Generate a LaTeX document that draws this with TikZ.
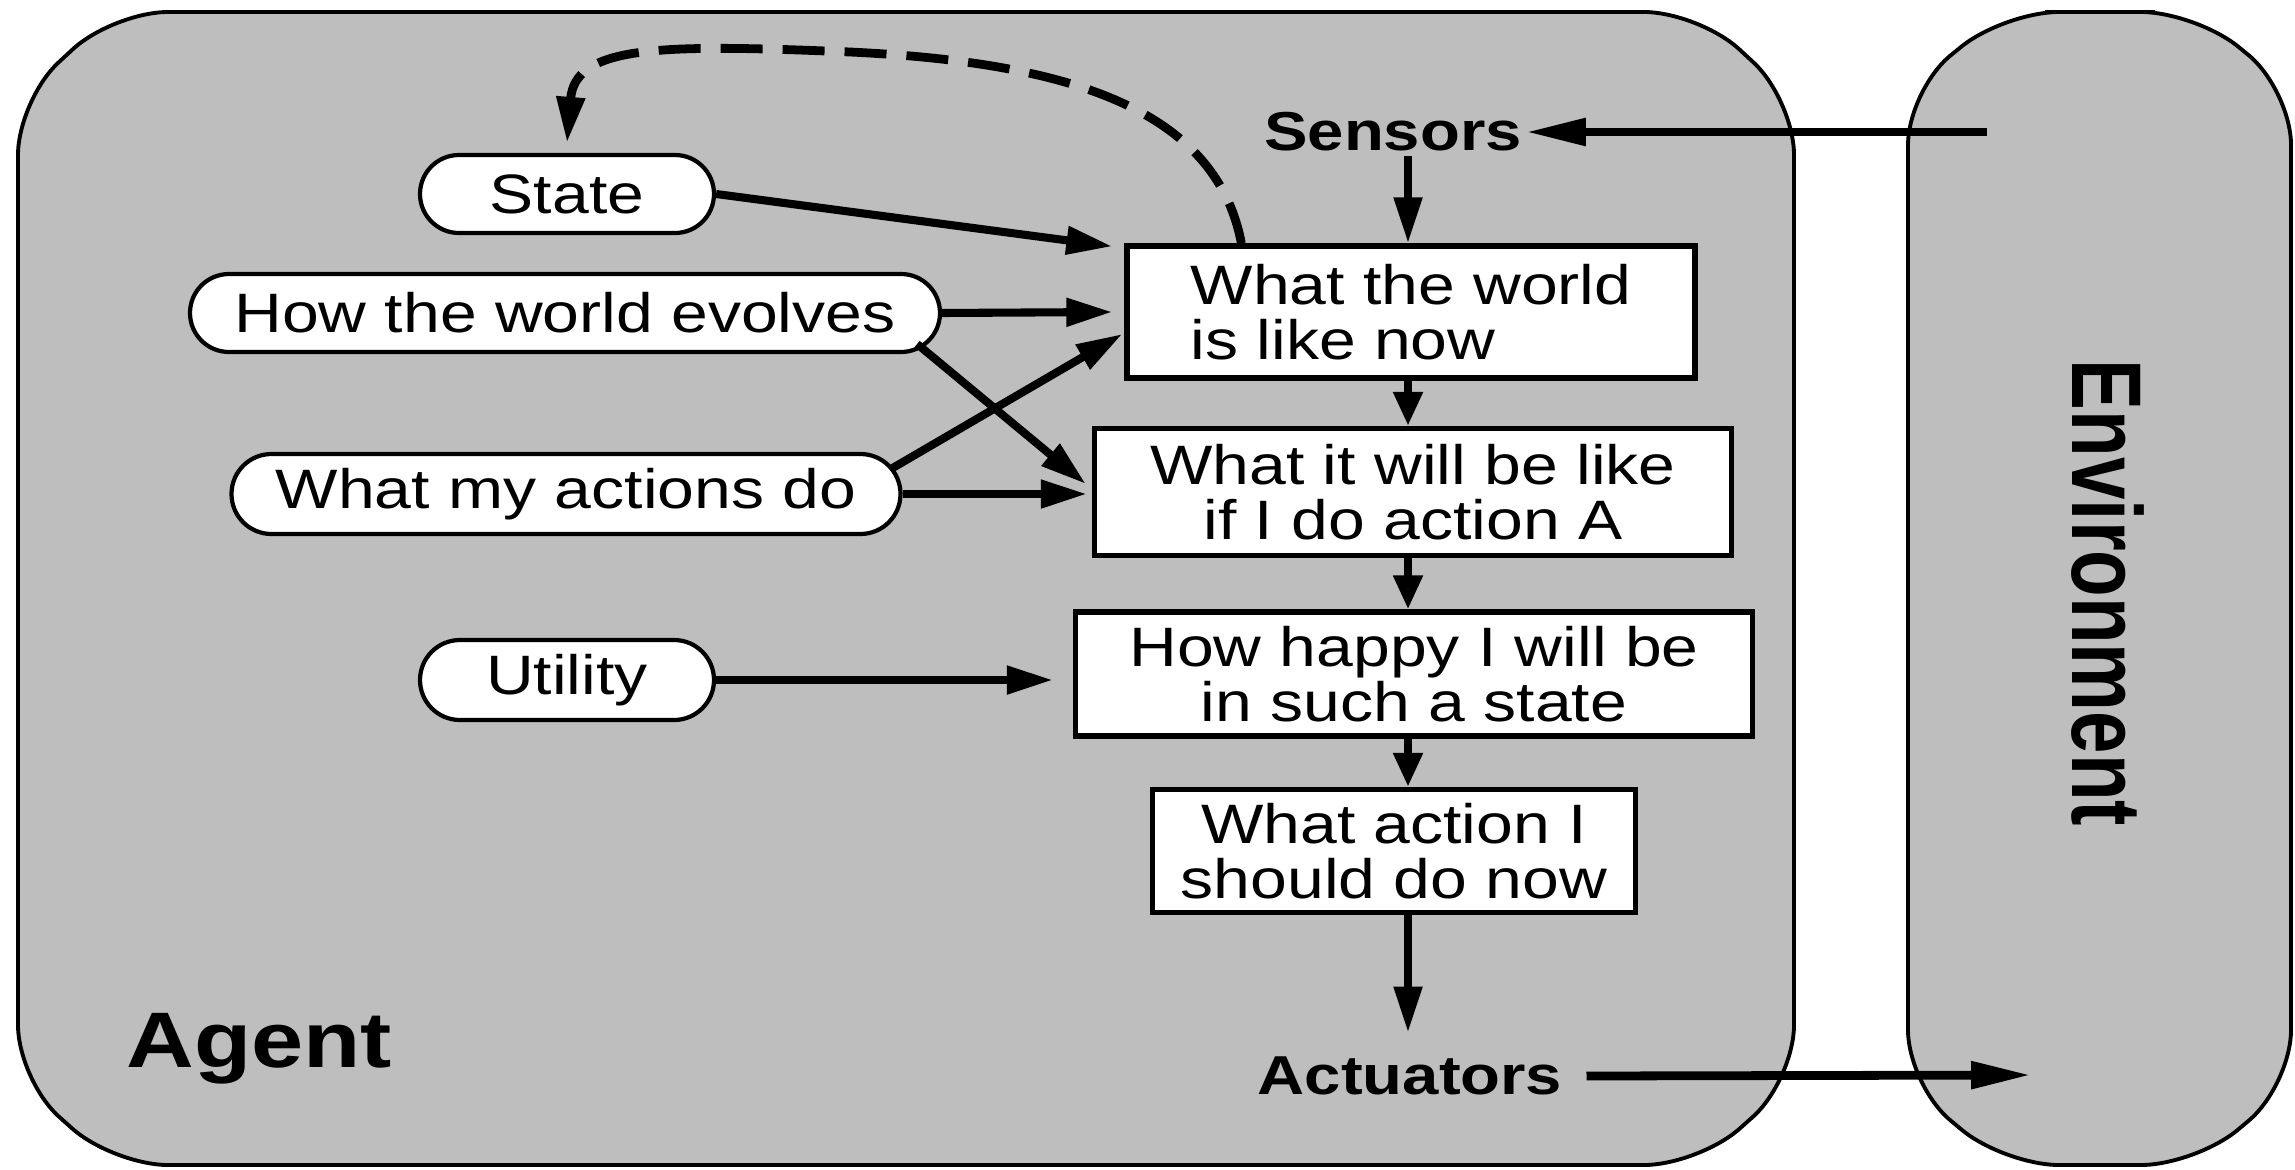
\documentclass[tikz,border=0pt]{standalone}
\usepackage{fontspec}
\setmainfont{Liberation Sans}[FakeStretch=1.19]
\newfontfamily\envfont{Liberation Sans}
\usetikzlibrary{shapes.misc,arrows.meta,calc}
\definecolor{panel}{HTML}{BEBEBE}
\begin{document}
\begin{tikzpicture}[x=1cm,y=-1cm,
  panelbox/.style={draw=black, line width=1.1pt, fill=panel, rounded corners=0.55cm},
  model/.style={rounded rectangle, draw=black, line width=1.2pt, fill=white,
    minimum height=0.78cm, inner sep=0pt, font=\fontsize{15.8}{15.7}\selectfont},
  stage/.style={rectangle, draw=black, line width=1.5pt, fill=white,
    inner sep=0pt, font=\fontsize{15.8}{15.7}\selectfont},
  port/.style={font=\bfseries\fontsize{15.6}{18}\selectfont, inner sep=1pt},
  flow/.style={-{Triangle[length=4.6mm,width=2.7mm]}, line width=2.3pt},
  chain/.style={-{Triangle[length=3.4mm,width=2.8mm]}, line width=2.3pt},
  link/.style={-{Triangle[length=6mm,width=2.6mm]}, line width=2.5pt},
  feedback/.style={-{Triangle[length=4.6mm,width=2.7mm]}, line width=2.5pt, dash pattern=on 4.2mm off 2mm}
]
\useasboundingbox (0,0) rectangle (22.95,11.69);

% agent and environment panels (chamfered, softly rounded corners)
\draw[panelbox] (9,0.12) -- (16.99,0.12) -- (17.94,1.0) -- (17.94,10.8) -- (16.99,11.65)
  -- (1.13,11.65) -- (0.18,10.8) -- (0.18,1.0) -- (1.13,0.12) -- cycle;
\draw[panelbox] (21,0.12) -- (21.96,0.12) -- (22.91,0.9) -- (22.91,10.85) -- (21.96,11.65)
  -- (20.04,11.65) -- (19.08,10.85) -- (19.08,0.9) -- (20.04,0.12) -- cycle;

% labels of the panels
\node[font=\bfseries\fontsize{22.4}{26}\selectfont, anchor=west, inner sep=0pt] (agentlbl) at (1.26,10.49) {Agent};
\node[rotate=-90, inner sep=0pt, font=\envfont\bfseries\fontsize{21.7}{26}\selectfont] (envlbl) at (21.08,5.93) {\scalebox{1}[1.3]{Environment}};

% sensors and actuators
\node[port] (sensors) at (13.93,1.32) {Sensors};
\node[port] (actuators) at (14.10,10.76) {Actuators};
\coordinate (spine) at (14.08,0);
\coordinate (envout) at (19.87,1.32);
\coordinate (envin) at (20.31,10.75);

% internal knowledge
\node[model, minimum width=2.94cm] (state) at (5.67,1.94) {State};
\node[model, minimum width=7.50cm] (evolves) at (5.65,3.13) {How the world evolves};
\node[model, minimum width=6.69cm, minimum height=0.80cm] (actions) at (5.66,4.94) {What my actions do};
\node[model, minimum width=2.94cm, minimum height=0.80cm] (utility) at (5.67,6.80) {Utility};

% decision stages
\node[stage, minimum width=5.68cm, minimum height=1.32cm, align=left] (now) at (14.11,3.12) {What the world\\is like now};
\node[stage, minimum width=6.37cm, minimum height=1.27cm, align=center] (future) at (14.13,4.92) {What it will be like\\ if I do action A};
\node[stage, minimum width=6.77cm, minimum height=1.24cm, align=center] (happy) at (14.14,6.74) {How happy I will be\\in such a state};
\node[stage, minimum width=4.83cm, minimum height=1.23cm, align=center] (act) at (13.94,8.51) {What action I\\should do now};

% main chain
\draw[link] (envout) -- (sensors.east);
\draw[flow] (sensors.south -| spine) -- (spine |- now.north);
\draw[chain] (spine |- now.south) -- (spine |- future.north);
\draw[chain] (spine |- future.south) -- (spine |- happy.north);
\draw[chain] (spine |- happy.south) -- (spine |- act.north);
\draw[flow] (spine |- act.south) -- ($(spine |- actuators.north)+(0,-0.2)$);
\draw[link] ($(actuators.east)+(0.2,0)$) -- (envin);

% knowledge feeding the stages
\draw[flow] (state.east) -- ($(now.north west)+(-0.12,0.03)$);
\draw[flow] (evolves.east) -- ($(now.west)+(-0.12,0)$);
\draw[flow] ($(evolves.east)+(-0.25,0.31)$) -- ($(future.west)+(-0.06,-0.08)$);
\draw[flow] ($(actions.east)+(-0.1,-0.26)$) -- ($(now.west)+(-0.02,0.22)$);
\draw[flow] (actions.east) -- ($(future.west)+(-0.05,0.02)$);
\draw[flow] (utility.east) -- ($(utility.east -| happy.west)+(-0.2,0)$);

% state update
\draw[feedback] ($(now.north west)+(1.17,0)$) .. controls (12.15,1.05) and (10.6,0.62) .. (8.5,0.52)
  .. controls (6.6,0.44) and (5.75,0.45) .. ($(state.north)+(0,-0.1)$);
\end{tikzpicture}
\end{document}
